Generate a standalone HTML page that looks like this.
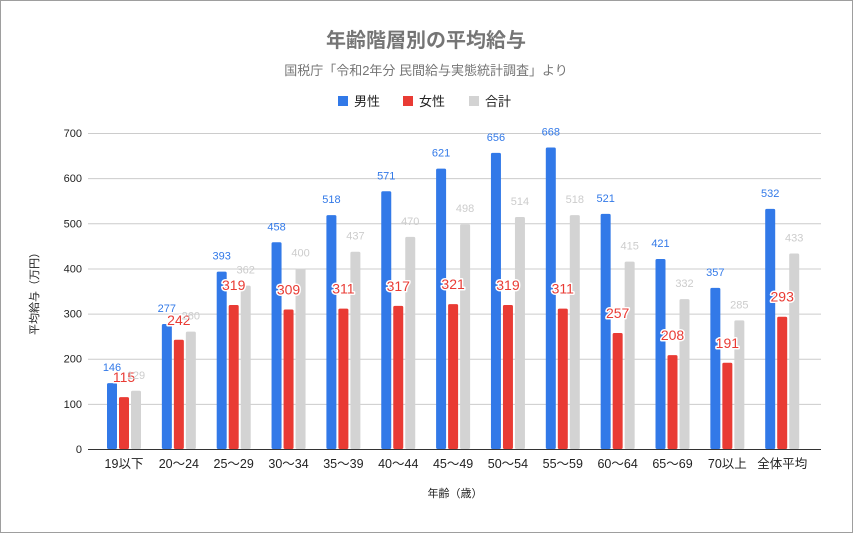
<!DOCTYPE html>
<html><head><meta charset="utf-8"><style>
body{margin:0;background:#fff}
svg{display:block;font-family:"Liberation Sans","Noto Sans CJK JP",sans-serif}
</style></head><body>
<svg width="853" height="533" xmlns="http://www.w3.org/2000/svg">
<rect x="0.5" y="0.5" width="852" height="532" fill="#fff" stroke="#9e9e9e"/>
<text x="426" y="47" text-anchor="middle" font-size="20" font-weight="bold" fill="#757575">年齢階層別の平均給与</text>
<text x="426" y="75" text-anchor="middle" font-size="13" fill="#757575">国税庁「令和2年分 民間給与実態統計調査」より</text>
<rect x="338" y="96" width="10" height="10" fill="#3279e8"/><text x="354" y="106" font-size="13" fill="#222">男性</text>
<rect x="403" y="96" width="10" height="10" fill="#e93b34"/><text x="419" y="106" font-size="13" fill="#222">女性</text>
<rect x="469" y="96" width="10" height="10" fill="#d3d3d3"/><text x="485" y="106" font-size="13" fill="#222">合計</text>
<g id="grid" stroke="#cccccc" stroke-width="1"></g>
<g id="bars"></g>
<text transform="translate(38,291) rotate(-90)" text-anchor="middle" font-size="11" fill="#222">平均給与（万円）</text>
<text x="455" y="497" text-anchor="middle" font-size="11" fill="#222">年齢（歳）</text>
<script>
const ns="http://www.w3.org/2000/svg";
const g=document.getElementById('grid'),b=document.getElementById('bars');
function el(p,t,a,txt){const e=document.createElementNS(ns,t);for(const k in a)e.setAttribute(k,a[k]);if(txt!==undefined)e.textContent=txt;p.appendChild(e);return e;}
const Y=v=>449-v*0.4514;
for(let v=0;v<=700;v+=100){
 el(g,'line',{x1:88,x2:821,y1:Y(v)+0.5,y2:Y(v)+0.5,stroke:v==0?'#333':'#cccccc'});
 el(b,'text',{x:82,y:Y(v)+4,'text-anchor':'end','font-size':11,fill:'#222'},v);
}
const cats=['19以下','20〜24','25〜29','30〜34','35〜39','40〜44','45〜49','50〜54','55〜59','60〜64','65〜69','70以上','全体平均'];
const m=[146,277,393,458,518,571,621,656,668,521,421,357,532];
const f=[115,242,319,309,311,317,321,319,311,257,208,191,293];
const t=[129,260,362,400,437,470,498,514,518,415,332,285,433];
const labels=[];
cats.forEach((c,i)=>{
 const cx=124+i*54.85;
 const S=[[m[i],'#3279e8',-12,11,-12],[f[i],'#e93b34',0,14,-15],[t[i],'#d3d3d3',12,11,-12]];
 S.forEach(([v,col,dx,fs,off],j)=>{
  const x=cx+dx-5;
  el(b,'rect',{x:x,y:Y(v),width:10,height:449-Y(v),fill:col,rx:1.5});
  labels.push([j,{x:x+5,y:Y(v)+off,'text-anchor':'middle','font-size':fs,fill:j==2?'#cccccc':col},v]);
 });
 el(b,'text',{x:cx,y:468,'text-anchor':'middle','font-size':12.5,fill:'#222'},c);
});
labels.sort((a,b)=>a[0]-b[0]).forEach(([j,a,v])=>{
 if(j==1){a.stroke='#fff';a['stroke-width']=3;a['paint-order']='stroke';a['stroke-linejoin']='round';}
 el(b,'text',a,v);
});
</script>
</svg>
</body></html>
